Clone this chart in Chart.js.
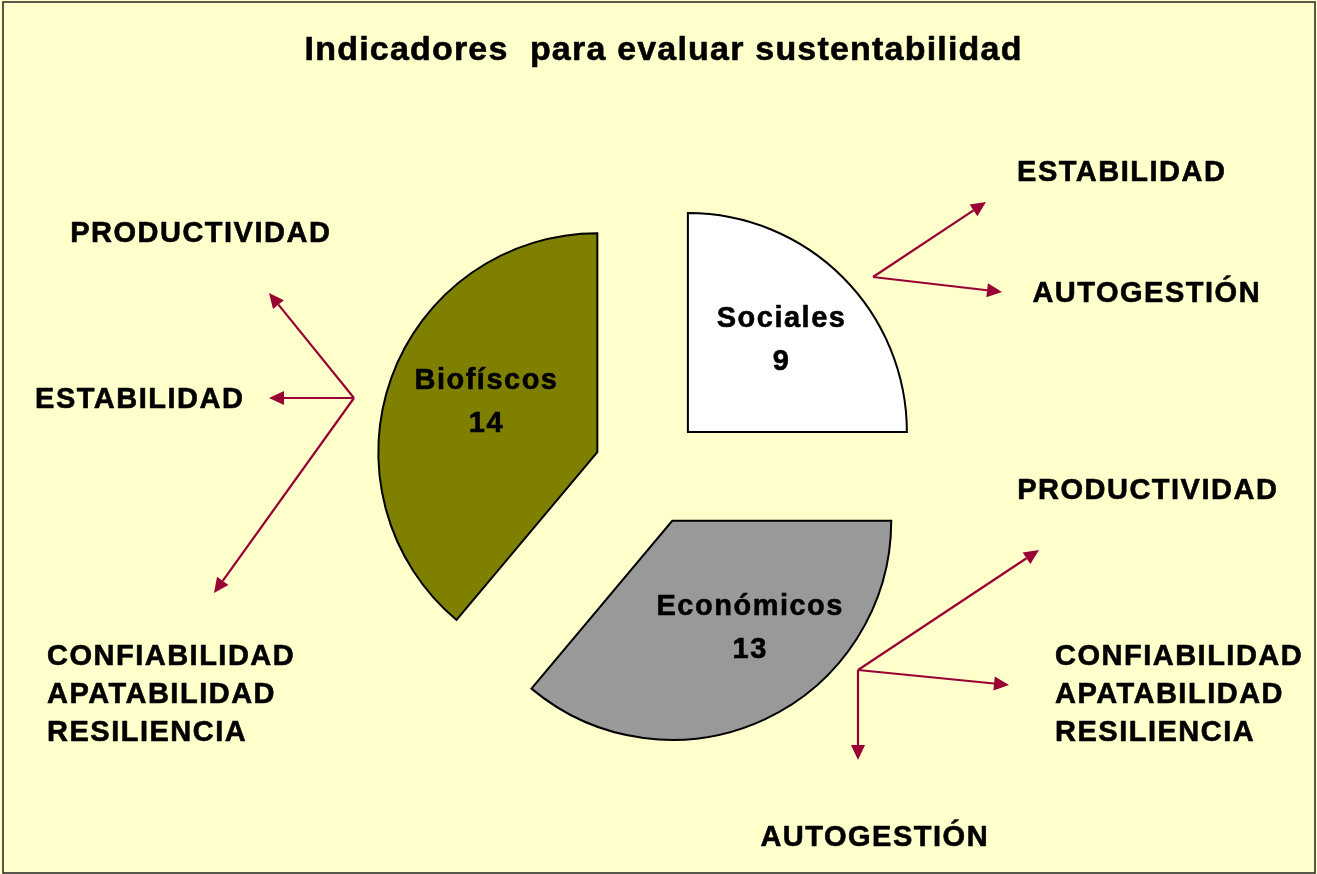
<!DOCTYPE html>
<html>
<head>
<meta charset="utf-8">
<script src="https://cdn.jsdelivr.net/npm/chart.js@4.4.1/dist/chart.umd.min.js"></script>
<style>
  html, body { margin: 0; padding: 0; background: #FFFFCC; }
  #wrap { width: 1317px; height: 874px; position: relative; }
</style>
</head>
<body>
<div id="wrap"><canvas id="pieChart"></canvas></div>
<script>
// data
const categories = ['Sociales', 'Económicos', 'Biofíscos'];
const indicatorCounts = [9, 13, 14];
const sliceColors = ['#FFFFFF', '#999999', '#808000'];
const chartTitle = 'Indicadores  para evaluar sustentabilidad';

// annotation texts (x, y in px; align)
const noteTexts = [
  ['ESTABILIDAD', 1121, 171, 'center'],
  ['AUTOGESTIÓN', 1146, 292, 'center'],
  ['PRODUCTIVIDAD', 200, 232, 'center'],
  ['ESTABILIDAD', 139, 398, 'center'],
  ['CONFIABILIDAD', 47, 655, 'left'],
  ['APATABILIDAD', 47, 693, 'left'],
  ['RESILIENCIA', 47, 731, 'left'],
  ['PRODUCTIVIDAD', 1147, 489, 'center'],
  ['CONFIABILIDAD', 1055, 655, 'left'],
  ['APATABILIDAD', 1055, 693, 'left'],
  ['RESILIENCIA', 1055, 731, 'left'],
  ['AUTOGESTIÓN', 874, 836, 'center']
];

// arrows: [fromX, fromY, toX, toY]
const arrows = [
  [873, 277, 986, 202],
  [873, 277, 1002, 292],
  [858, 670, 1039, 550],
  [858, 670, 1009, 685],
  [858, 670, 858, 760],
  [354, 398, 269, 293],
  [354, 398, 269, 398],
  [354, 398, 214, 593]
];

const explode = 55;
const pieRadius = 219;
const labelNudgeDeg = [0, -11, 4.5];
const labelRadiusFrac = [0.6, 0.6, 0.56];
const FONT = '"Liberation Sans", Arial, sans-serif';

function spacedText(ctx, text, x, y, align, spacing) {
  ctx.letterSpacing = spacing + 'px';
  const w = ctx.measureText(text).width;
  const sx = align === 'center' ? x - (w - spacing) / 2 : x;
  ctx.textAlign = 'left';
  ctx.strokeText(text, sx, y);
  ctx.fillText(text, sx, y);
  ctx.letterSpacing = '0px';
}

const backgroundPlugin = {
  id: 'background',
  beforeDraw(chart) {
    const ctx = chart.ctx;
    ctx.save();
    ctx.fillStyle = '#FFFFCC';
    ctx.fillRect(0, 0, chart.width, chart.height);
    ctx.strokeStyle = '#222222';
    ctx.lineWidth = 1.5;
    ctx.strokeRect(3, 2, chart.width - 5, chart.height - 3);
    ctx.restore();
  }
};

// pull every slice out of the centre along its bisector
const explodePlugin = {
  id: 'explode',
  beforeDatasetsDraw(chart) {
    const area = chart.chartArea;
    const cx = (area.left + area.right) / 2;
    const cy = (area.top + area.bottom) / 2;
    chart.getDatasetMeta(0).data.forEach(arc => {
      const mid = (arc.startAngle + arc.endAngle) / 2;
      arc.x = cx + Math.cos(mid) * explode;
      arc.y = cy + Math.sin(mid) * explode;
    });
  }
};

const annotationPlugin = {
  id: 'annotations',
  afterDatasetsDraw(chart) {
    const ctx = chart.ctx;
    ctx.save();

    ctx.fillStyle = '#000';
    ctx.strokeStyle = '#000';
    ctx.lineWidth = 0.6;
    ctx.lineJoin = 'round';
    ctx.textBaseline = 'middle';

    // title
    ctx.font = 'bold 34px ' + FONT;
    spacedText(ctx, chartTitle, 663, 51, 'center', 1.2);

    // slice labels
    ctx.font = 'bold 29px ' + FONT;
    chart.getDatasetMeta(0).data.forEach((arc, i) => {
      const mid = (arc.startAngle + arc.endAngle) / 2 + labelNudgeDeg[i] * Math.PI / 180;
      const d = arc.outerRadius * labelRadiusFrac[i];
      const lx = arc.x + Math.cos(mid) * d;
      const ly = arc.y + Math.sin(mid) * d;
      spacedText(ctx, categories[i], lx, ly - 20, 'center', 1.5);
      spacedText(ctx, String(indicatorCounts[i]), lx, ly + 23, 'center', 1.5);
    });

    // side texts
    noteTexts.forEach(t => spacedText(ctx, t[0], t[1], t[2] + 2, t[3], 1.5));

    // arrows
    ctx.strokeStyle = '#990033';
    ctx.fillStyle = '#990033';
    ctx.lineWidth = 2.2;
    arrows.forEach(a => {
      const ang = Math.atan2(a[3] - a[1], a[2] - a[0]);
      const len = 15, half = 7;
      const bx = a[2] - Math.cos(ang) * len;
      const by = a[3] - Math.sin(ang) * len;
      ctx.beginPath();
      ctx.moveTo(a[0], a[1]);
      ctx.lineTo(bx, by);
      ctx.stroke();
      ctx.beginPath();
      ctx.moveTo(a[2], a[3]);
      ctx.lineTo(bx - Math.sin(ang) * half, by + Math.cos(ang) * half);
      ctx.lineTo(bx + Math.sin(ang) * half, by - Math.cos(ang) * half);
      ctx.closePath();
      ctx.fill();
    });

    ctx.restore();
  }
};

new Chart(document.getElementById('pieChart'), {
  type: 'pie',
  data: {
    labels: categories,
    datasets: [{
      data: indicatorCounts,
      backgroundColor: sliceColors,
      borderColor: '#000000',
      borderWidth: 2,
      borderJoinStyle: 'miter'
    }]
  },
  options: {
    responsive: true,
    maintainAspectRatio: false,
    animation: false,
    radius: pieRadius,
    layout: { padding: { left: 0, right: 19, top: 68, bottom: 0 } },
    plugins: {
      legend: { display: false },
      title: { display: false },
      tooltip: { enabled: false }
    },
    events: []
  },
  plugins: [backgroundPlugin, explodePlugin, annotationPlugin]
});
</script>
</body>
</html>
